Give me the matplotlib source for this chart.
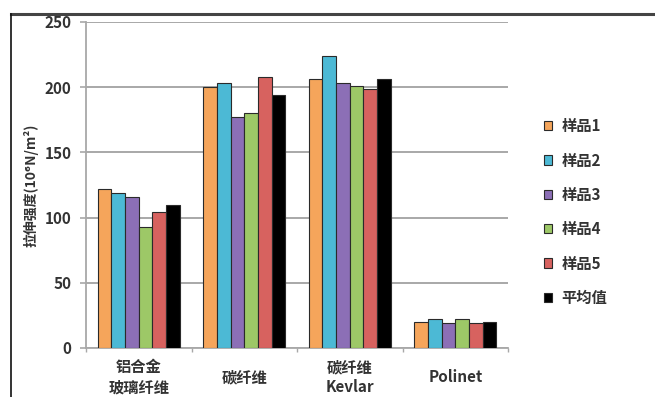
import matplotlib
matplotlib.use('Agg')
import numpy as np
import matplotlib.pyplot as plt
from matplotlib.lines import Line2D

plt.rcParams['font.family'] = ['Noto Sans CJK SC', 'DejaVu Sans']

categories = ['铝合金\n玻璃纤维', '碳纤维', '碳纤维\nKevlar', 'Polinet']
series_names = ['样品1', '样品2', '样品3', '样品4', '样品5', '平均值']
sample1 = [122, 200, 206, 20]
sample2 = [119, 203, 224, 22]
sample3 = [116, 177, 203, 19]
sample4 = [93, 180, 201, 22]
sample5 = [104, 208, 199, 19]
average = [110, 194, 206, 20]
y_ticks = [0, 50, 100, 150, 200, 250]

colors = ['#F5A55B', '#4CB9D5', '#8C6FB6', '#9DC867', '#D7625F', '#000000']
series = [sample1, sample2, sample3, sample4, sample5, average]

fig = plt.figure(figsize=(6.55, 3.97), dpi=100)
ax = fig.add_axes([86 / 655, 1 - 348 / 397, 422 / 655, 326 / 397])

x = np.arange(len(categories))
w = 0.13
for i, (vals, name, c) in enumerate(zip(series, series_names, colors)):
    ax.bar(x + (i - 2.5) * w, vals, w, color=c, edgecolor='#2a2a2a',
           linewidth=0.8, label=name, zorder=3)

ax.set_xlim(-0.5, 3.5)
ax.set_ylim(0, 250)
ax.set_yticks(y_ticks)
ax.yaxis.grid(True, color='#a8a8a8', linewidth=1.4, zorder=0)
ax.tick_params(axis='y', length=4.5, width=1.2, color='#a8a8a8', pad=6,
               labelsize=11, labelcolor='#333333')
for lbl in ax.get_yticklabels():
    lbl.set_fontweight('bold')

ax.set_xticks(x)
ax.set_xticklabels(categories, fontsize=11, fontweight='bold', color='#333333',
                   linespacing=1.3)
ax.tick_params(axis='x', which='major', length=0, pad=21)
for lbl in ax.get_xticklabels():
    lbl.set_va('center')
ax.set_xticks(np.arange(-0.5, 3.6, 1), minor=True)
ax.tick_params(axis='x', which='minor', length=3, width=1, color='#a8a8a8')

for s in ['top', 'right']:
    ax.spines[s].set_visible(False)
for s in ['left', 'bottom']:
    ax.spines[s].set_color('#a8a8a8')
    ax.spines[s].set_linewidth(1.3)

ax.set_ylabel('拉伸强度(10⁶N/m²)', fontsize=10, fontweight='bold', color='#333333',
              labelpad=4)

leg = ax.legend(loc='center left', bbox_to_anchor=(530 / 655, 1 - 212 / 397),
                bbox_transform=fig.transFigure, frameon=False,
                prop={'size': 11, 'weight': 'bold'}, handlelength=0.55,
                handleheight=0.55, handletextpad=0.6, labelspacing=1.2)
for t in leg.get_texts():
    t.set_color('#333333')

fig.add_artist(Line2D([11 / 655, 1], [1 - 14 / 397] * 2, transform=fig.transFigure,
                      color='#444444', linewidth=2.2))
fig.add_artist(Line2D([11 / 655] * 2, [0, 1 - 14 / 397], transform=fig.transFigure,
                      color='#111111', linewidth=1.2))

fig.savefig('out.png', dpi=100)
